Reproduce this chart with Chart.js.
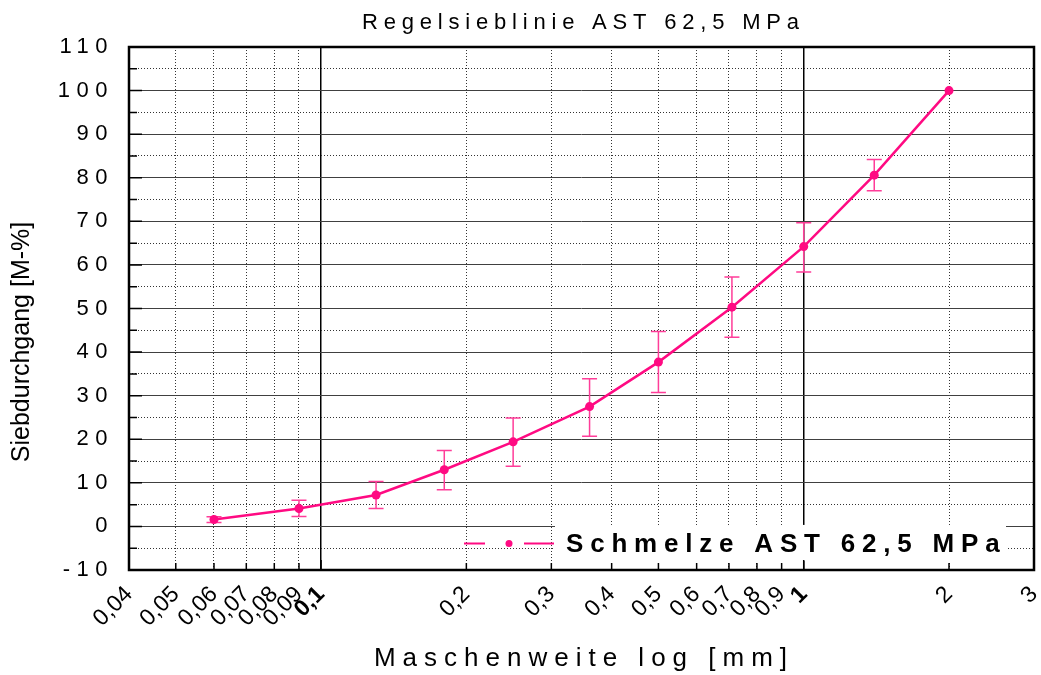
<!DOCTYPE html>
<html>
<head>
<meta charset="utf-8">
<title>Regelsieblinie AST 62,5 MPa</title>
<script src="https://cdn.jsdelivr.net/npm/chart.js@4.4.1/dist/chart.umd.min.js"></script>
<style>
  html, body { margin: 0; padding: 0; background: #ffffff; }
  #wrap { width: 1041px; height: 675px; position: relative; }
</style>
</head>
<body>
<div id="wrap"><canvas id="sieveChart"></canvas></div>
<script>
// Texts
const chartTitle = 'Regelsieblinie AST 62,5 MPa';
const xAxisTitle = 'Maschenweite log [mm]';
const yAxisTitle = 'Siebdurchgang [M-%]';
const seriesName = 'Schmelze AST 62,5 MPa';

// Sieve sizes [mm] and passing [M-%] with lower / upper bounds
const sieveSizes  = [0.06, 0.09, 0.13, 0.18, 0.25, 0.36, 0.5, 0.71, 1, 1.4, 2];
const passing     = [1.6, 4.1, 7.2, 13.0, 19.4, 27.5, 37.7, 50.3, 64.2, 80.6, 100];
const passingLow  = [0.9, 2.3, 4.1, 8.4, 13.8, 20.7, 30.7, 43.4, 58.4, 77.0, 100];
const passingHigh = [2.2, 6.0, 10.3, 17.4, 24.9, 33.9, 44.7, 57.2, 69.7, 84.2, 100];

// Axis ticks
const xTickValues = [0.04, 0.05, 0.06, 0.07, 0.08, 0.09, 0.1, 0.2, 0.3, 0.4, 0.5, 0.6, 0.7, 0.8, 0.9, 1, 2, 3];
const xTickLabels = ['0,04', '0,05', '0,06', '0,07', '0,08', '0,09', '0,1', '0,2', '0,3', '0,4', '0,5', '0,6', '0,7', '0,8', '0,9', '1', '2', '3'];
const xMajorValues = [0.1, 1];
const yMin = -10, yMax = 110, yStep = 5, yLabelStep = 10;

const FONT = '"Liberation Sans", Arial, Helvetica, sans-serif';
const PINK = '#ff0a82';
const PINK_BAR = '#ff3d99';

const isMajorX = v => xMajorValues.some(m => Math.abs(m - v) < 1e-9);
const isMajorY = v => Math.abs(v % yLabelStep) < 1e-9;

function spacedText(ctx, text, x, y, spacing, align) {
  ctx.save();
  ctx.letterSpacing = spacing + 'px';
  const w = ctx.measureText(text).width - spacing;
  let sx = x;
  if (align === 'center') sx = x - w / 2;
  else if (align === 'right') sx = x - w;
  ctx.textAlign = 'left';
  ctx.fillText(text, sx, y);
  ctx.restore();
}

const sievePlugin = {
  id: 'sieveDecor',
  beforeDraw(chart) {
    // spacing for the value labels of the y axis
    chart.ctx.letterSpacing = '6.5px';
  },
  beforeDatasetsDraw(chart) {
    const {ctx, scales: {x, y}} = chart;
    ctx.save();
    ctx.strokeStyle = PINK_BAR;
    ctx.lineWidth = 1.5;
    const cap = 7.5;
    sieveSizes.forEach((s, i) => {
      if (passingHigh[i] - passingLow[i] < 0.01) return;
      const px = x.getPixelForValue(s);
      const yl = y.getPixelForValue(passingLow[i]);
      const yh = y.getPixelForValue(passingHigh[i]);
      ctx.beginPath();
      ctx.moveTo(px, yl); ctx.lineTo(px, yh);
      ctx.moveTo(px - cap, yl); ctx.lineTo(px + cap, yl);
      ctx.moveTo(px - cap, yh); ctx.lineTo(px + cap, yh);
      ctx.stroke();
    });
    ctx.restore();
  },
  afterDatasetsDraw(chart) {
    chart.ctx.letterSpacing = '0px';
  },
  afterDraw(chart) {
    const {ctx, chartArea: a, scales: {x, y}} = chart;
    const ds = chart.data.datasets[0];
    ctx.save();
    ctx.letterSpacing = '0px';

    // legend
    const boxL = a.left + 426, boxR = a.right - 28, boxT = y.getPixelForValue(0) - 1.5, boxB = a.bottom - 9;
    ctx.fillStyle = '#ffffff';
    ctx.fillRect(boxL, boxT, boxR - boxL, boxB - boxT);
    const ly = (boxT + boxB) / 2 + 0.5;
    ctx.strokeStyle = ds.borderColor;
    ctx.lineWidth = 2;
    ctx.beginPath();
    ctx.moveTo(boxL - 91, ly); ctx.lineTo(boxL - 70, ly);
    ctx.moveTo(boxL - 31, ly); ctx.lineTo(boxL - 1, ly);
    ctx.stroke();
    ctx.fillStyle = ds.backgroundColor;
    ctx.beginPath();
    ctx.arc(boxL - 46, ly, 3.5, 0, Math.PI * 2);
    ctx.fill();
    ctx.fillStyle = '#000';
    ctx.font = 'bold 26px ' + FONT;
    ctx.textBaseline = 'alphabetic';
    spacedText(ctx, ds.label, boxL + 11, ly + 8.5, 6.8, 'left');

    // frame
    ctx.strokeStyle = '#000';
    ctx.lineWidth = 2.5;
    ctx.strokeRect(a.left, a.top, a.right - a.left, a.bottom - a.top);

    // inward tick marks
    ctx.lineWidth = 1.5;
    ctx.beginPath();
    x.ticks.forEach(t => {
      const px = x.getPixelForValue(t.value);
      const len = isMajorX(t.value) ? 10 : 7;
      ctx.moveTo(px, a.bottom); ctx.lineTo(px, a.bottom - len);
    });
    y.ticks.forEach(t => {
      const py = y.getPixelForValue(t.value);
      const len = isMajorY(t.value) ? 13 : 8;
      ctx.moveTo(a.left, py); ctx.lineTo(a.left + len, py);
    });
    ctx.stroke();

    // titles
    const cx = (a.left + a.right) / 2;
    ctx.fillStyle = '#000';
    ctx.font = '22px ' + FONT;
    spacedText(ctx, chartTitle, cx - 1, 29, 5.8, 'center');
    ctx.font = '26px ' + FONT;
    spacedText(ctx, xAxisTitle, cx - 1, 666, 7, 'center');

    ctx.save();
    ctx.translate(29, 342);
    ctx.rotate(-Math.PI / 2);
    ctx.font = '25px ' + FONT;
    ctx.textAlign = 'center';
    ctx.fillText(yAxisTitle, 0, 0);
    ctx.restore();

    ctx.restore();
  }
};

new Chart(document.getElementById('sieveChart'), {
  type: 'line',
  data: {
    datasets: [{
      label: seriesName,
      data: sieveSizes.map((s, i) => ({x: s, y: passing[i]})),
      borderColor: PINK,
      backgroundColor: PINK,
      borderWidth: 2.5,
      pointRadius: 4.5,
      pointHoverRadius: 4.5,
      pointBackgroundColor: PINK,
      pointBorderWidth: 0,
      tension: 0,
      clip: false
    }]
  },
  options: {
    responsive: true,
    maintainAspectRatio: false,
    animation: false,
    events: [],
    layout: {padding: {top: 47, right: 7, bottom: 0, left: 0}},
    plugins: {
      legend: {display: false},
      title: {display: false},
      tooltip: {enabled: false}
    },
    scales: {
      x: {
        type: 'logarithmic',
        min: 0.04,
        max: 3,
        afterBuildTicks: s => { s.ticks = xTickValues.map(v => ({value: v})); },
        afterFit: s => { s.height = 105; s.paddingLeft = 0; s.paddingRight = 0; },
        ticks: {
          autoSkip: false,
          minRotation: 45,
          maxRotation: 45,
          padding: 11,
          color: '#000',
          z: 1,
          font: c => ({family: FONT, size: 23, weight: (c.tick && isMajorX(c.tick.value)) ? 'bold' : 'normal'}),
          callback: (v, i) => xTickLabels[i]
        },
        grid: {
          drawTicks: false,
          color: c => (c.tick && isMajorX(c.tick.value)) ? '#000' : '#333',
          lineWidth: c => (c.tick && isMajorX(c.tick.value)) ? 1.5 : 1
        },
        border: {
          display: false,
          dash: c => (c.tick && !isMajorX(c.tick.value)) ? [1, 2] : []
        }
      },
      y: {
        type: 'linear',
        min: yMin,
        max: yMax,
        afterFit: s => { s.width = 129; s.paddingTop = 0; s.paddingBottom = 0; },
        ticks: {
          stepSize: yStep,
          autoSkip: false,
          padding: 15,
          color: '#000',
          font: {family: FONT, size: 22},
          callback: v => isMajorY(v) ? String(v) : ''
        },
        grid: {
          drawTicks: false,
          color: c => (c.tick && isMajorY(c.tick.value)) ? '#404040' : '#333',
          lineWidth: 1
        },
        border: {
          display: false,
          dash: c => (c.tick && !isMajorY(c.tick.value)) ? [1, 2] : []
        }
      }
    }
  },
  plugins: [sievePlugin]
});
</script>
</body>
</html>
